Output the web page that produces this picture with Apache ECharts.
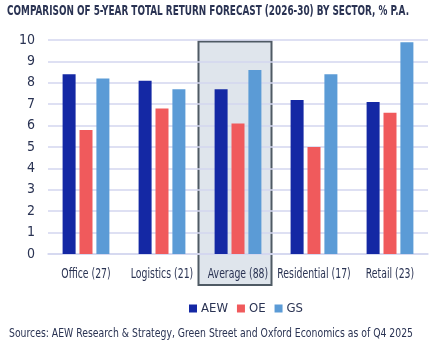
<!DOCTYPE html>
<html>
<head>
<meta charset="utf-8">
<script src="https://cdn.jsdelivr.net/npm/echarts@6/dist/echarts.min.js"></script>
<style>
html, body { margin: 0; padding: 0; background: #fff; }
#main { width: 440px; height: 354px; }
</style>
</head>
<body>
<div id="main"></div>
<script>
// sector forecast data, % p.a.
var categories = ['Office (27)', 'Logistics (21)', 'Average (88)', 'Residential (17)', 'Retail (23)'];
var aewValues = [8.4, 8.1, 7.7, 7.2, 7.1];
var oeValues = [5.8, 6.8, 6.1, 5.0, 6.6];
var gsValues = [8.2, 7.7, 8.6, 8.4, 9.9];
var yTicks = [0, 10, 1];   // min, max, interval
var highlightCat = 'Average (88)';

var titleText = 'COMPARISON OF 5-YEAR TOTAL RETURN FORECAST (2026-30) BY SECTOR, % P.A.';
var sourceText = 'Sources: AEW Research & Strategy, Green Street and Oxford Economics as of Q4 2025';

var FONT = '"DejaVu Sans Condensed", "DejaVu Sans", sans-serif';
var INK = '#2a3353';

var chart = echarts.init(document.getElementById('main'));

/**
 * width of a text in px for the given css font
 */
var textWidth = function(text, font){
    return new echarts.graphic.Text({ style: { text: text, font: font } }).getBoundingRect().width;
};

/**
 * text squeezed horizontally to fit a given width (the original uses a condensed face)
 */
var squeezedText = function(text, font, x, y, width, align){
    var sx = width ? width / textWidth(text, font) : 0.74;
    return {
        type: 'text',
        x: x,
        y: y,
        scaleX: sx,
        silent: true,
        style: { text: text, font: font, fill: INK, align: align || 'left', verticalAlign: 'middle' }
    };
};

var makeSeries = function(name, data, color){
    return {
        name: name,
        type: 'bar',
        data: data,
        barWidth: 13,
        barGap: '30%',
        itemStyle: { color: color },
        z: 3
    };
};

chart.setOption({
    animation: false,
    legend: {
        top: 297,
        left: 184,
        itemWidth: 8,
        itemHeight: 8,
        itemGap: 9,
        icon: 'rect',
        textStyle: { fontFamily: FONT, fontSize: 13, color: INK, padding: [0, 0, 0, -1] }
    },
    grid: { left: 48, right: 12, top: 40, bottom: 100 },
    xAxis: {
        type: 'category',
        data: categories,
        axisLine: { lineStyle: { color: '#d3d6ef', width: 1.5 } },
        axisTick: { show: false },
        axisLabel: { show: false }
    },
    yAxis: {
        type: 'value',
        min: yTicks[0],
        max: yTicks[1],
        interval: yTicks[2],
        axisLine: { show: false },
        axisTick: { show: false },
        axisLabel: { fontFamily: FONT, fontSize: 14, color: INK, margin: 13 },
        splitLine: { lineStyle: { color: '#d3d6ef', width: 1.5 } }
    },
    series: [
        makeSeries('AEW', aewValues, '#1428a4'),
        makeSeries('OE', oeValues, '#f05a5c'),
        makeSeries('GS', gsValues, '#5b9bd6')
    ]
});

// positions taken from the axis scales
var idx = categories.indexOf(highlightCat);
var cx = chart.convertToPixel({ xAxisIndex: 0 }, idx);
var band = chart.convertToPixel({ xAxisIndex: 0 }, 1) - chart.convertToPixel({ xAxisIndex: 0 }, 0);
var yTop = chart.convertToPixel({ yAxisIndex: 0 }, yTicks[1]) + 1.5;
var yBase = chart.convertToPixel({ yAxisIndex: 0 }, yTicks[0]);

var graphics = [
    squeezedText(titleText, 'bold 14px ' + FONT, 7, 11, 402),
    squeezedText(sourceText, '13px ' + FONT, 9, 334, 404),
    {
        type: 'rect',
        z: -10,
        silent: true,
        shape: { x: cx - band / 2 - 1.5, y: yTop, width: band - 3, height: yBase - yTop + 31 },
        style: { fill: '#dfe5ec', stroke: '#4f5a64', lineWidth: 2 }
    }
];
categories.forEach(function(c, i){
    graphics.push(squeezedText(c, '14px ' + FONT, chart.convertToPixel({ xAxisIndex: 0 }, i), yBase + 20, 0, 'center'));
});
chart.setOption({ graphic: graphics });
</script>
</body>
</html>
